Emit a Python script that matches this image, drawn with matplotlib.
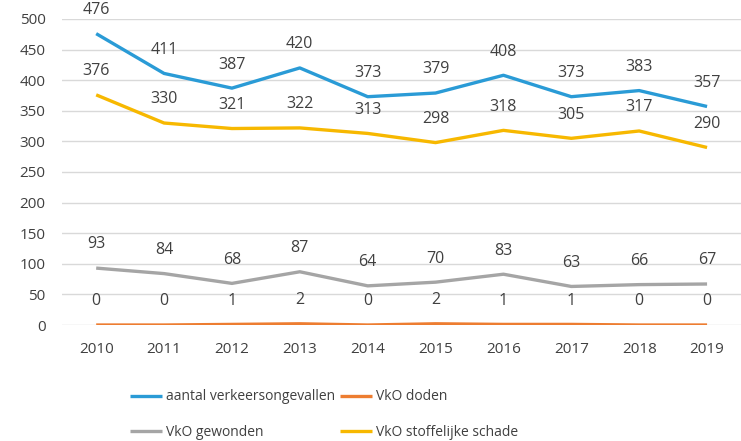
import matplotlib
matplotlib.use("Agg")
import matplotlib.pyplot as plt

years = ["2010", "2011", "2012", "2013", "2014", "2015", "2016", "2017", "2018", "2019"]
ongevallen = [476, 411, 387, 420, 373, 379, 408, 373, 383, 357]
doden = [0, 0, 1, 2, 0, 2, 1, 1, 0, 0]
gewonden = [93, 84, 68, 87, 64, 70, 83, 63, 66, 67]
stoffelijk = [376, 330, 321, 322, 313, 298, 318, 305, 317, 290]
yticks = [0, 50, 100, 150, 200, 250, 300, 350, 400, 450, 500]

plt.rcParams['font.family'] = ['Open Sans', 'DejaVu Sans']

fig = plt.figure(figsize=(7.41, 4.41), dpi=100)
ax = fig.add_axes([0.084, 0.263, 0.916, 0.694])

x = list(range(len(years)))
series = [
    ("aantal verkeersongevallen", ongevallen, "#2a9bd6"),
    ("VkO doden", doden, "#ed7d31"),
    ("VkO gewonden", gewonden, "#a5a5a5"),
    ("VkO stoffelijke schade", stoffelijk, "#f7b800"),
]
lines = {}
for name, vals, col in series:
    l, = ax.plot(x, vals, color=col, lw=2.4, label=name, solid_capstyle='butt', zorder=3)
    lines[name] = l
    for xi, v in zip(x, vals):
        ax.annotate(str(v), (xi, v), xytext=(0, 17), textcoords='offset points',
                    ha='center', va='center', fontsize=11.5, color='#404040',
                    annotation_clip=False)

ax.set_xlim(-0.5, len(years) - 0.5)
ax.set_ylim(0, 500)
ax.set_yticks(yticks)
ax.set_xticks(x)
ax.set_xticklabels(years)
ax.yaxis.grid(True, color='#d9d9d9', lw=1)
ax.set_axisbelow(True)
for s in ax.spines.values():
    s.set_visible(False)
ax.tick_params(length=0, labelsize=11, colors='#404040')
ax.tick_params(axis='x', pad=12)
ax.tick_params(axis='y', pad=12)

order = ["aantal verkeersongevallen", "VkO gewonden", "VkO doden", "VkO stoffelijke schade"]
fig.legend([lines[n] for n in order], order, ncol=2, loc='lower left',
           bbox_to_anchor=(0.158, -0.025), frameon=False, fontsize=10,
           handlelength=2.3, handletextpad=0.3, columnspacing=0.4, labelspacing=1.45,
           labelcolor='#404040')

fig.savefig("out.png", dpi=100, facecolor='white')
